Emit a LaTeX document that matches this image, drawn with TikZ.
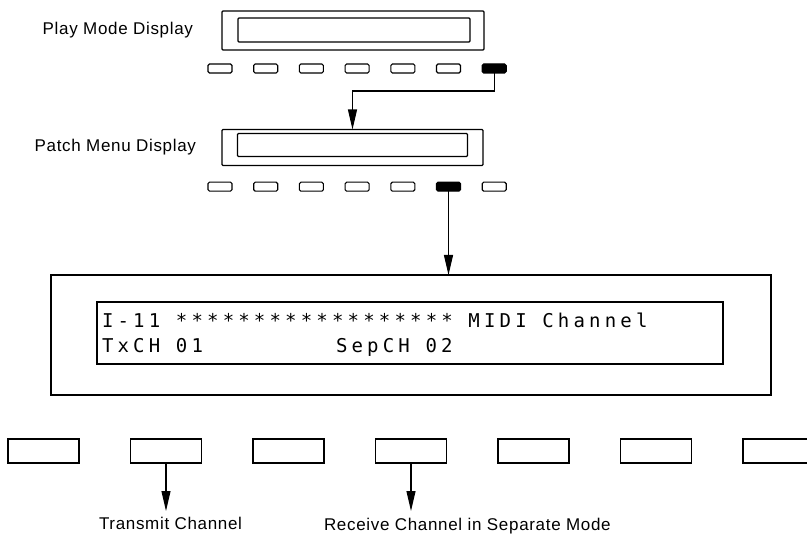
\documentclass[tikz,border=0pt]{standalone}
\usepackage{fontspec}
\setmainfont{Liberation Sans}
\newfontfamily\lblfont[LetterSpace=4]{Liberation Sans}
\newfontfamily\lcdfont[LetterSpace=22]{DejaVu Sans Mono}
\usetikzlibrary{arrows.meta,positioning}

\begin{document}
\begin{tikzpicture}[x=1pt,y=-1pt,
  every node/.style={inner sep=0pt, outer sep=0pt},
  frame/.style={draw, line width=1.1pt, rounded corners=1pt},
  sbtn/.style={draw, line width=1.1pt, rounded corners=1.5pt, minimum width=24pt, minimum height=9pt},
  sbtnon/.style={sbtn, fill=black},
  key/.style={draw, line width=1.1pt, minimum width=71pt, minimum height=24pt},
  lbl/.style={font=\lblfont\fontsize{17}{20}\selectfont},
  lcd/.style={font=\lcdfont\fontsize{19}{22}\selectfont, anchor=base west},
  lead/.style={line width=1.1pt, -{Triangle[length=20pt,width=9pt]}}]
\useasboundingbox (0,0) rectangle (807,540);
% play mode display
\node[frame, minimum width=262pt, minimum height=39pt] (play) at (353,30.5) {};
\node[frame, minimum width=232pt, minimum height=24pt] (playlcd) at (354,30) {};
\node[lbl, left=29pt of play] (playlbl) {Play Mode Display};
\foreach \i in {1,...,6} {
\node[sbtn] (pb\i) at ({220+45.7*(\i-1)},68.5) {};
}
\node[sbtnon] (pb7) at (494.2,68.5) {};
% patch menu display
\node[frame, minimum width=261pt, minimum height=36pt] (patch) at (352.5,147.5) {};
\node[frame, minimum width=230pt, minimum height=23pt] (patchlcd) at (352.5,145) {};
\node[lbl, left=26pt of patch] (patchlbl) {Patch Menu Display};
\foreach \i in {1,2,3,4,5,7} {
\node[sbtn] (mb\i) at ({220+45.7*(\i-1)},186.7) {};
}
\node[sbtnon] (mb6) at (448.5,186.7) {};
\draw[lead] (pb7.south) -- ++(0,18) -| (patch.north);
% midi channel page
\node[draw, line width=1.1pt, minimum width=720pt, minimum height=120pt] (page) at (411,335) {};
\node[draw, line width=1.1pt, minimum width=626pt, minimum height=62pt] (pagelcd) at (410,333) {};
\draw[lead] (mb6.south) -- (mb6.south |- page.north);
\node[lcd] (row1) at (102,328) {I-11 ****************** MIDI Channel};
\node[lcd] (txch) at (102,353) {TxCH 01};
\node[lcd] (sepch) at (336,353) {SepCH 02};
% function keys
\foreach \i in {1,...,7} {
\node[key] (k\i) at ({43.5+122.5*(\i-1)},451) {};
}
\draw[lead] (k2.south) -- ++(0,48) coordinate (tx);
\draw[lead] (k4.south) -- ++(0,48) coordinate (rx);
\node[lbl, below right=6pt and -67pt of tx] (txlbl) {Transmit Channel};
\node[lbl, below right=7pt and -87pt of rx] (rxlbl) {Receive Channel in Separate Mode};
\end{tikzpicture}
\end{document}
